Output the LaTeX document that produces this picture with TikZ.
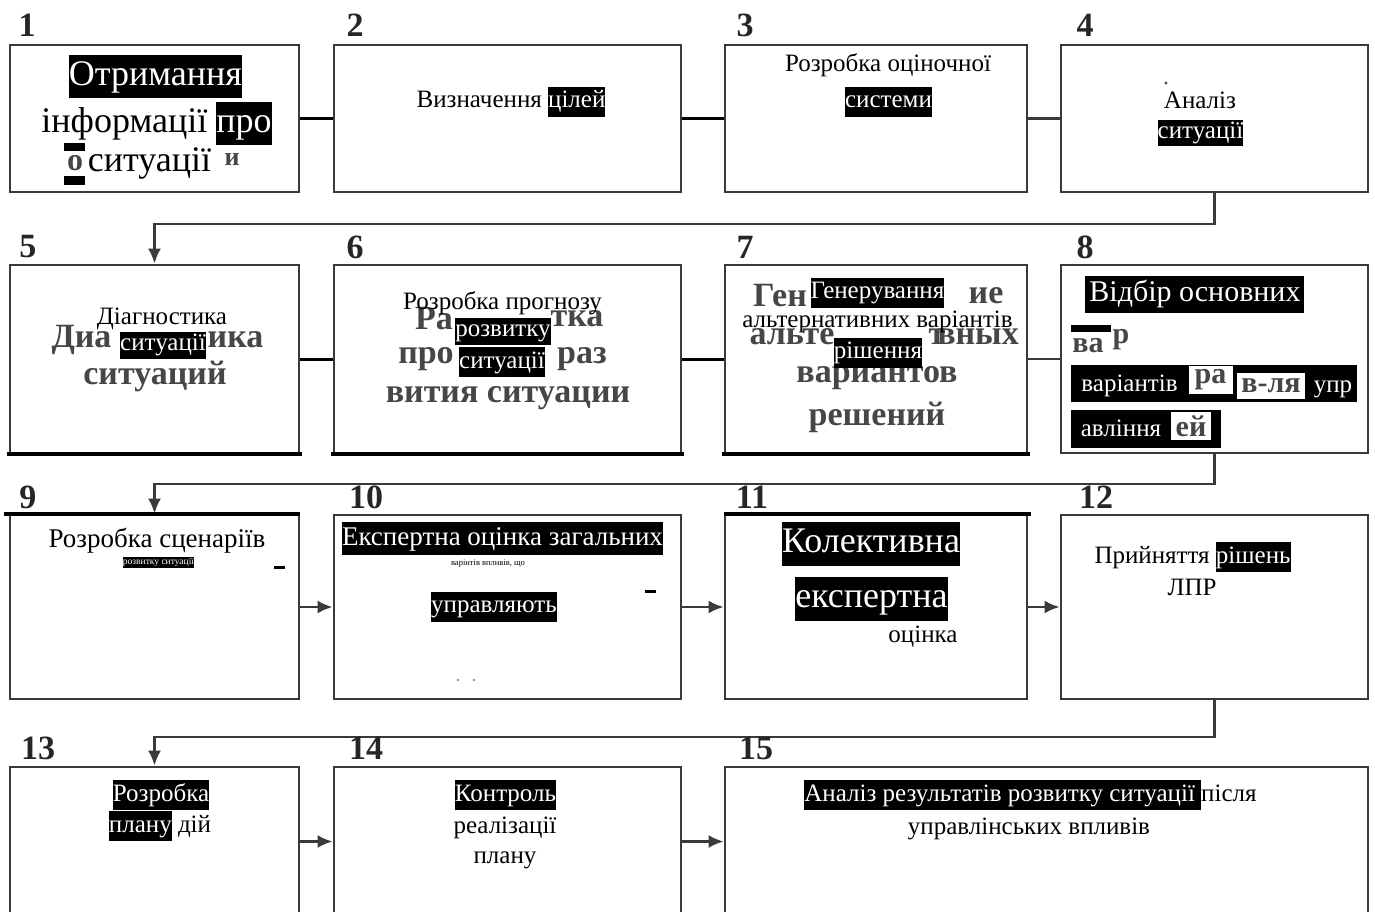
\documentclass[tikz,border=0pt]{standalone}
\usepackage{fontspec}
\setmainfont{Liberation Serif}
\usetikzlibrary{arrows.meta,calc}

\definecolor{frame}{HTML}{3A3A3A}
\definecolor{ghost}{HTML}{464646}

% white text on a black band, as tall as the current strut
\newcommand\hlt[1]{{\setlength\fboxsep{0pt}\colorbox{black}{\strut\textcolor{white}{#1}}}}
\newcommand\fsz[2]{\fontsize{#1}{#2}\selectfont}

\tikzset{
  box/.style={draw=frame, line width=2.8pt, inner sep=0pt},
  heavy/.style={draw=black, line width=4pt},
  txt/.style={inner sep=0pt, font=\fsz{25}{30}, text=black},
  big/.style={inner sep=0pt, font=\fsz{36}{43}, text=black},
  ghosttxt/.style={inner sep=0pt, font=\bfseries\fsz{34}{40}, text=ghost},
  num/.style={inner sep=0pt, font=\bfseries\fsz{34}{40}, text=black!85},
  link/.style={draw=black, line width=3pt},
  thinlink/.style={draw=frame, line width=2.4pt},
  flow/.style={draw=frame, line width=2.6pt, -{Latex[length=15pt,width=13pt]}},
  band/.style={fill=black, inner sep=0pt},
  patch/.style={fill=white, inner sep=0pt, font=\bfseries\fsz{30}{34}, text=ghost}
}

\begin{document}
\begin{tikzpicture}[x=1pt, y=-1pt]
\useasboundingbox (0,0) rectangle (1375,912);
\clip (0,0) rectangle (1375,912);
\fill[white] (0,0) rectangle (1375,912);

% ---------- boxes ----------
\node[box, minimum width=289, minimum height=147] (b1) at (154.5,118.5) {};
\node[box, minimum width=347, minimum height=147] (b2) at (507.5,118.5) {};
\node[box, minimum width=302, minimum height=147] (b3) at (876,118.5) {};
\node[box, minimum width=307, minimum height=147] (b4) at (1214.5,118.5) {};

\node[box, minimum width=289, minimum height=188] (b5) at (154.5,359) {};
\node[box, minimum width=347, minimum height=188] (b6) at (507.5,359) {};
\node[box, minimum width=302, minimum height=188] (b7) at (876,359) {};
\node[box, minimum width=307, minimum height=188] (b8) at (1214.5,359) {};

\node[box, minimum width=289, minimum height=184] (b9) at (154.5,607) {};
\node[box, minimum width=347, minimum height=184] (b10) at (507.5,607) {};
\node[box, minimum width=302, minimum height=184] (b11) at (876,607) {};
\node[box, minimum width=307, minimum height=184] (b12) at (1214.5,607) {};

\node[box, minimum width=289, minimum height=149] (b13) at (154.5,841.5) {};
\node[box, minimum width=347, minimum height=149] (b14) at (507.5,841.5) {};
\node[box, minimum width=643, minimum height=149] (b15) at (1046.5,841.5) {};

% heavier black edges
\draw[heavy] ([xshift=-2pt]b5.south west) -- ([xshift=2pt]b5.south east);
\draw[heavy] ([xshift=-2pt]b6.south west) -- ([xshift=2pt]b6.south east);
\draw[heavy] ([xshift=-2pt]b7.south west) -- ([xshift=2pt]b7.south east);
\draw[heavy] ([xshift=-5pt]b9.north west) -- (b9.north east);
\draw[heavy] (b11.north west) -- ([xshift=3pt]b11.north east);

% ---------- connectors ----------
\draw[link] (b1) -- (b2);
\draw[link] (b2) -- (b3);
\draw[thinlink] (b3) -- (b4);
\draw[link] (b5) -- (b6);
\draw[link] (b6) -- (b7);
\draw[thinlink] (b7) -- (b8);
\draw[flow] (b9) -- (b10);
\draw[flow] (b10) -- (b11);
\draw[flow] (b11) -- (b12);
\draw[flow] (b13) -- (b14);
\draw[flow] (b14) -- (b15);

\coordinate (r1) at (0,224);
\coordinate (r2) at (0,484);
\coordinate (r3) at (0,737);
\draw[flow] (b4.south) -- (b4.south |- r1) -| (b5.north);
\draw[flow] (b8.south) -- (b8.south |- r2) -| (b9.north);
\draw[flow] (b12.south) -- (b12.south |- r3) -| (b13.north);

% ---------- numbers ----------
\node[num] (n1) at (27,25) {1};
\node[num] (n2) at (355,25) {2};
\node[num] (n3) at (745,25) {3};
\node[num] (n4) at (1085,25) {4};
\node[num] (n5) at (28,247) {5};
\node[num] (n6) at (355,247) {6};
\node[num] (n7) at (745,247) {7};
\node[num] (n8) at (1085,247) {8};
\node[num] (n9) at (28,497) {9};
\node[num] (n10) at (366,497) {10};
\node[num] (n11) at (752,497) {11};
\node[num] (n12) at (1096,497) {12};
\node[num] (n13) at (38,748) {13};
\node[num] (n14) at (366,748) {14};
\node[num] (n15) at (756,748) {15};

% ---------- box 1 ----------
\node[big] (t1a) at (155.5,77) {\strut\hlt{Отримання}};
\node[big] (t1b) at (156.5,124) {\strut інформації \hlt{про}};
\node[ghosttxt, font=\bfseries\fsz{32}{36}] (g1a) at (75,163) {о};
\fill[black] (64,143) rectangle (85,151);
\fill[black] (64,176) rectangle (85,185);
\node[big] (t1c) at (149.5,163) {\strut ситуації};
\node[ghosttxt, font=\bfseries\fsz{26}{30}] (g1b) at (232,160) {и};

% ---------- box 2 ----------
\node[txt] (t2) at (511,102) {\strut Визначення \hlt{цілей}};

% ---------- box 3 ----------
\node[txt] (t3a) at (888,66) {\strut Розробка оціночної};
\node[txt] (t3b) at (888.5,102) {\strut\hlt{системи}};

% ---------- box 4 ----------
\fill[black!70] (1166,83) circle (1.6);
\node[txt] (t4a) at (1200,103) {\strut Аналіз};
\node[txt, font=\fsz{25}{26}] (t4b) at (1200.5,133.5) {\strut\hlt{ситуації}};

% ---------- box 5 ----------
\node[ghosttxt] (g5a) at (81.5,340) {Диа};
\node[ghosttxt] (g5b) at (235.5,340) {ика};
\node[ghosttxt] (g5c) at (155,376) {ситуаций};
\node[txt] (t5a) at (162,318) {\strut Діагностика};
\node[txt, font=\fsz{25}{27}] (t5b) at (163,345) {\strut\hlt{ситуації}};

% ---------- box 6 ----------
\node[ghosttxt] (g6a) at (434,319) {Ра};
\node[ghosttxt] (g6b) at (577,319) {тка};
\node[ghosttxt] (g6c) at (426,359) {про};
\node[ghosttxt] (g6d) at (582,359) {раз};
\node[ghosttxt] (g6e) at (508,398) {вития ситуации};
\node[txt] (t6a) at (502.5,303) {\strut Розробка прогнозу};
\node[txt, font=\fsz{25}{27}] (t6b) at (503,331) {\strut\hlt{розвитку}};
\node[txt] (t6c) at (502,362) {\strut\hlt{ситуації}};

% ---------- box 7 ----------
\node[ghosttxt] (g7a) at (780,296) {Ген};
\node[ghosttxt] (g7b) at (986,296) {ие};
\node[ghosttxt] (g7c) at (792,337) {альте};
\node[ghosttxt] (g7d) at (937,337) {т};
\node[ghosttxt] (g7e) at (978,337) {вных};
\node[ghosttxt] (g7f) at (877,378) {вариантов};
\node[ghosttxt] (g7g) at (877,417) {решений};
\node[txt] (t7a) at (877.5,292.5) {\strut\hlt{Генерування}};
\node[txt] (t7b) at (877.5,321) {\strut альтернативних варіантів};
\node[txt] (t7c) at (878,352.5) {\strut\hlt{рішення}};

% ---------- box 8 ----------
\node[txt, font=\fsz{30}{37}] (t8a) at (1194.5,294) {\strut\hlt{\hspace{4pt}Відбір основних\hspace{3pt}}};
\fill[black] (1071,325) rectangle (1111,332);
\node[ghosttxt, font=\bfseries\fsz{30}{36}] (g8a) at (1088,346) {ва};
\node[ghosttxt, font=\bfseries\fsz{30}{36}] (g8b) at (1121,340) {р};
\node[band, minimum width=286, minimum height=37] (bar8a) at (1214,383.5) {};
\node[txt, text=white] (t8b) at (1129.5,385) {\strut варіантів};
\node[patch, minimum width=44, minimum height=28] (g8c) at (1210.5,380) {ра};
\node[patch, minimum width=68, minimum height=26] (g8d) at (1271,386) {в-ля};
\node[txt, text=white] (t8c) at (1333,386) {\strut упр};
\node[band, minimum width=150, minimum height=38] (bar8b) at (1146,429) {};
\node[txt, text=white] (t8d) at (1121,430) {\strut авління};
\node[patch, minimum width=40, minimum height=28] (g8e) at (1191,426) {ей};

% ---------- box 9 ----------
\node[txt, font=\fsz{27}{32}] (t9a) at (157,541) {\strut Розробка сценаріїв};
\node[txt, font=\fsz{9.5}{11}] (t9b) at (158.5,562) {\strut\hlt{розвитку ситуації}};
\fill[black] (274,566) rectangle (285,569);

% ---------- box 10 ----------
\node[txt, font=\fsz{27}{33}] (t10a) at (502.5,538.5) {\strut\hlt{Експертна оцінка загальних}};
\node[txt, font=\fsz{8.5}{10}] (t10b) at (488,563) {\strut варінтів впливів, що};
\fill[black] (645,590) rectangle (656,593);
\node[txt] (t10c) at (494,606.5) {\strut\hlt{управляють}};
\fill[black!45] (458,680) circle (1.3);
\fill[black!45] (474,680) circle (1.3);

% ---------- box 11 ----------
\node[big, font=\fsz{36}{44}] (t11a) at (871,544) {\strut\hlt{Колективна}};
\node[big, font=\fsz{36}{44}] (t11b) at (871.5,599) {\strut\hlt{експертна}};
\node[txt] (t11c) at (923,636) {\strut оцінка};

% ---------- box 12 ----------
\node[txt] (t12a) at (1192.5,557) {\strut Прийняття \hlt{рішень}};
\node[txt] (t12b) at (1192,589) {\strut ЛПР};

% ---------- box 13 ----------
\node[txt] (t13a) at (161,795) {\strut\hlt{Розробка}};
\node[txt] (t13b) at (160,826) {\strut\hlt{плану} дій};

% ---------- box 14 ----------
\node[txt] (t14a) at (505.5,795) {\strut\hlt{Контроль}};
\node[txt] (t14b) at (505,827) {\strut реалізації};
\node[txt] (t14c) at (505,857) {\strut плану};

% ---------- box 15 ----------
\node[txt] (t15a) at (1030.5,795) {\strut\hlt{Аналіз результатів розвитку ситуації }після};
\node[txt] (t15b) at (1029,828) {\strut управлінських впливів};
\end{tikzpicture}
\end{document}
